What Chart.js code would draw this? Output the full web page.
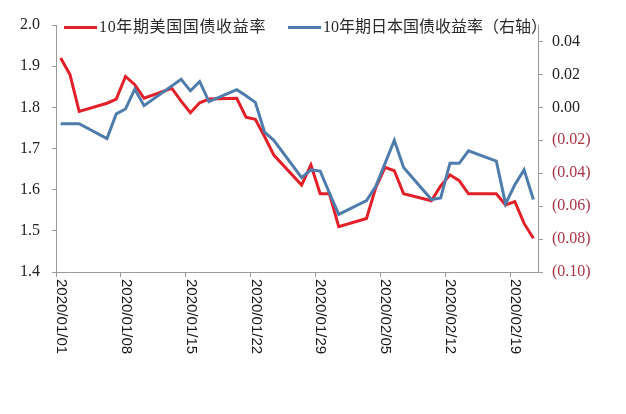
<!DOCTYPE html>
<html><head><meta charset="utf-8">
<script src="https://cdn.jsdelivr.net/npm/chart.js@4/dist/chart.umd.min.js"></script>
<style>html,body{margin:0;padding:0;background:#fff}#wrap{width:626px;height:414px;position:relative}</style>
</head><body><div id="wrap"><canvas id="c" width="626" height="414"></canvas></div>
<script>
const dates = ['2020/01/01','2020/01/02','2020/01/03','2020/01/06','2020/01/07','2020/01/08','2020/01/09','2020/01/10',
  '2020/01/13','2020/01/14','2020/01/15','2020/01/16','2020/01/17','2020/01/20','2020/01/21','2020/01/22','2020/01/23','2020/01/24',
  '2020/01/27','2020/01/28','2020/01/29','2020/01/30','2020/01/31','2020/02/03','2020/02/04','2020/02/05','2020/02/06','2020/02/07',
  '2020/02/10','2020/02/11','2020/02/12','2020/02/13','2020/02/14','2020/02/17','2020/02/18','2020/02/19','2020/02/20','2020/02/21'];
const usYield = [1.92,1.88,1.79,1.81,1.82,1.875,1.855,1.822,
  1.846,1.815,1.787,1.811,1.82,1.822,1.776,1.771,1.729,1.684,
  1.611,1.66,1.59,1.59,1.51,1.53,1.605,1.654,1.646,1.59,
  1.573,1.609,1.636,1.622,1.59,1.59,1.563,1.571,1.518,1.482];
const jpYield = [-0.010,-0.010,-0.010,-0.019,-0.004,-0.001,0.011,0.001,
  null,0.017,0.010,0.0157,0.0035,0.0107,0.007,0.003,-0.015,-0.020,
  -0.0427,-0.038,-0.0387,-0.052,-0.065,-0.0566,-0.048,-0.034,-0.020,-0.0366,
  -0.056,-0.055,-0.034,-0.034,-0.0264,-0.0326,-0.0586,-0.047,-0.038,-0.056];
const xTickLabels = ['2020/01/01','2020/01/08','2020/01/15','2020/01/22','2020/01/29','2020/02/05','2020/02/12','2020/02/19'];
const seriesNames = ['10年期美国国债收益率','10年期日本国债收益率（右轴）'];
const leftTickValues = [1.4,1.5,1.6,1.7,1.8,1.9,2.0];
const rightTickValues = [-0.10,-0.08,-0.06,-0.04,-0.02,0.00,0.02,0.04];
const leftRange = {min:1.4, max:2.0};
const rightRange = {min:-0.10, max:0.05};

const RED = '#e2202a', BLUE = '#4f7dab', NEG = '#a83446', AXIS = '#9a9a9a';
const base = Date.UTC(2020,0,1);
function dayIdx(s){const [y,m,d]=s.split('/').map(Number);return (Date.UTC(y,m-1,d)-base)/86400000;}
const usPts = dates.map((d,i)=>({x:dayIdx(d)+0.5,y:usYield[i]}));
const jpPts = dates.map((d,i)=>({x:dayIdx(d)+0.5,y:jpYield[i]}));
const tickDays = xTickLabels.map(dayIdx);

const overlay = {
  id:'overlay',
  afterDraw(chart){
    const ctx = chart.ctx;
    const xs = chart.scales.x;
    ctx.save();
    ctx.fillStyle = '#1a1a1a';
    ctx.font = '15px "Liberation Sans", Arial, Helvetica, sans-serif';
    ctx.textAlign = 'left'; ctx.textBaseline = 'middle';
    tickDays.forEach((d,i)=>{
      const px = xs.getPixelForValue(d);
      ctx.save(); ctx.translate(px+5, 279); ctx.rotate(Math.PI/2);
      ctx.fillText(xTickLabels[i],0,0); ctx.restore();
    });
    const items = [{c:RED,x0:64,t:seriesNames[0],w:167},{c:BLUE,x0:288,t:seriesNames[1],w:224}];
    ctx.font = '16px "Liberation Serif", "Noto Sans CJK SC", serif';
    items.forEach(it=>{
      ctx.strokeStyle = it.c; ctx.lineWidth = 3; ctx.lineCap='butt';
      ctx.beginPath(); ctx.moveTo(it.x0,27.5); ctx.lineTo(it.x0+33,27.5); ctx.stroke();
      ctx.fillStyle = '#2a2a2a';
      try{ctx.letterSpacing = '0px';}catch(e){}
      const mw = ctx.measureText(it.t).width;
      const n = [...it.t].length;
      try{ctx.letterSpacing = ((it.w - mw)/n).toFixed(2)+'px';}catch(e){}
      ctx.fillText(it.t, it.x0+35, 28);
    });
    ctx.restore();
  }
};

new Chart(document.getElementById('c'),{
  type:'line',
  data:{datasets:[
    {label:seriesNames[0],data:usPts,borderColor:RED,backgroundColor:RED,borderWidth:3,pointRadius:0,tension:0,yAxisID:'y',order:1,spanGaps:true},
    {label:seriesNames[1],data:jpPts,borderColor:BLUE,backgroundColor:BLUE,borderWidth:3,pointRadius:0,tension:0,yAxisID:'y1',order:0,spanGaps:true}
  ]},
  options:{
    responsive:false, animation:false, devicePixelRatio:1,
    layout:{padding:{top:25,left:0,right:0,bottom:0}},
    plugins:{legend:{display:false},tooltip:{enabled:false}},
    scales:{
      x:{type:'linear',position:'bottom',min:0,max:52,
        ticks:{display:false,stepSize:7},
        afterBuildTicks:s=>{s.ticks = tickDays.map(v=>({value:v}));},
        grid:{display:true,drawOnChartArea:false,drawTicks:true,tickLength:5,color:AXIS},
        border:{display:true,color:AXIS,width:1},
        afterFit:s=>{s.height=142;}},
      y:{type:'linear',position:'left',min:leftRange.min,max:leftRange.max,
        ticks:{padding:12,color:'#222',font:{family:'"Liberation Serif", serif',size:16},callback:v=>Number(v).toFixed(1)},
        afterBuildTicks:s=>{s.ticks = leftTickValues.map(v=>({value:v}));},
        grid:{display:true,drawOnChartArea:false,tickLength:4,color:AXIS},
        border:{display:true,color:AXIS,width:1},
        afterFit:s=>{s.width=56;}},
      y1:{type:'linear',position:'right',min:rightRange.min,max:rightRange.max,
        ticks:{padding:9,
          color:c=>(c.tick && c.tick.value < -1e-9) ? NEG : '#222',
          font:{family:'"Liberation Serif", serif',size:16},
          callback:v=>{const n=Number(v);return n < -1e-9 ? '('+Math.abs(n).toFixed(2)+')' : Math.abs(n).toFixed(2);}},
        afterBuildTicks:s=>{s.ticks = rightTickValues.map(v=>({value:v}));},
        grid:{display:true,drawOnChartArea:false,tickLength:5,color:AXIS},
        border:{display:true,color:AXIS,width:1},
        afterFit:s=>{s.width=88;}}
    }
  },
  plugins:[overlay]
});
</script></body></html>
